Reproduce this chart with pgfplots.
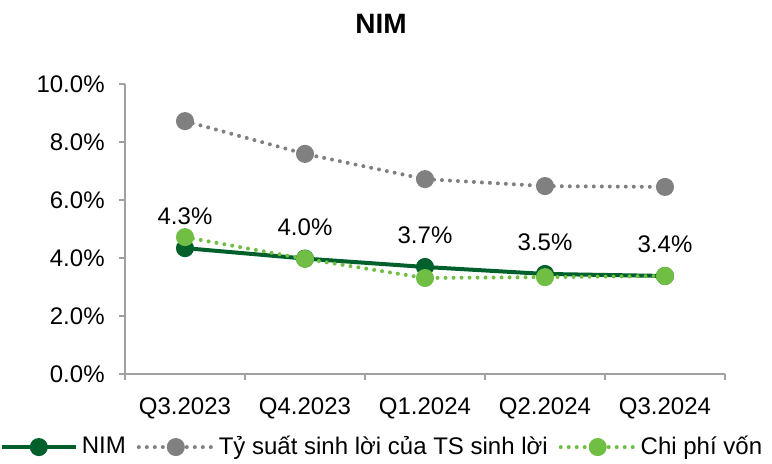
\documentclass[border=0pt]{standalone}
\usepackage{fontspec}
\setmainfont{Liberation Sans}
\usepackage{pgfplots}
\pgfplotsset{compat=1.18}
\definecolor{nimgreen}{RGB}{0,96,44}
\definecolor{tsgray}{RGB}{128,128,128}
\definecolor{cpgreen}{RGB}{112,190,68}
\definecolor{axisgray}{RGB}{160,160,160}
\begin{document}
\fontsize{12}{14}\selectfont
\begin{tikzpicture}
\useasboundingbox (-62.5pt,-45pt) rectangle (323.5pt,187pt);
\begin{axis}[
  at={(0,0)}, anchor=south west,
  scale only axis, width=300pt, height=145pt,
  xmin=-0.5, xmax=4.5, ymin=0, ymax=10,
  axis x line*=bottom, axis y line*=left,
  axis line style={axisgray, line width=0.6pt},
  xtick={0,1,2,3,4},
  xticklabels={Q3.2023,Q4.2023,Q1.2024,Q2.2024,Q3.2024},
  minor xtick={-0.5,0.5,1.5,2.5,3.5,4.5},
  ytick={0,2,4,6,8,10},
  tick align=outside,
  major tick length=3pt, minor tick length=3pt,
  x tick style={draw=none},
  minor x tick style={draw=axisgray, line width=0.6pt},
  y tick style={axisgray, line width=0.6pt},
  /pgf/number format/assume math mode=true,
  yticklabel={\pgfmathprintnumber[fixed,fixed zerofill,precision=1]{\tick}\%},
  xticklabel style={yshift=-4.5pt},
  yticklabel style={xshift=-3pt},
  tick label style={font=\fontsize{12}{14}\selectfont},
  clip=false,
  legend columns=3,
  legend style={at={(0.43,-0.252)}, anchor=center, draw=none, fill=none,
    font=\fontsize{12}{14}\selectfont,
    /tikz/every even column/.append style={column sep=3.5pt},
    inner sep=0pt},
  legend image code/.code={%
    \draw[mark repeat=2,mark phase=2] plot coordinates {(0pt,0pt) (18.5pt,0pt) (37pt,0pt)};},
  dotline/.style={line width=2pt, dash pattern=on 0pt off 4pt, line cap=round},
]
\addplot[nimgreen, line width=2pt, mark=*, mark size=3.5pt,
  mark options={solid, fill=nimgreen, draw=nimgreen},
  nodes near coords={\pgfmathprintnumber[fixed,fixed zerofill,precision=1]{\pgfplotspointmeta}\%},
  nodes near coords style={black, font=\fontsize{12}{14}\selectfont, yshift=6.5pt}]
  coordinates {(0,4.34) (1,3.98) (2,3.69) (3,3.45) (4,3.38)};
\addlegendentry{NIM}
\addplot[tsgray, dotline, mark=*, mark size=3.5pt,
  mark options={solid, fill=tsgray, draw=tsgray}]
  coordinates {(0,8.72) (1,7.59) (2,6.72) (3,6.48) (4,6.45)};
\addlegendentry{Tỷ suất sinh lời của TS sinh lời}
\addplot[cpgreen, dotline, mark=*, mark size=3.5pt,
  mark options={solid, fill=cpgreen, draw=cpgreen}]
  coordinates {(0,4.72) (1,3.97) (2,3.31) (3,3.34) (4,3.38)};
\addlegendentry{Chi phí vốn}
\end{axis}
\node[font=\fontsize{14}{16}\selectfont\bfseries] at (128pt,175pt) {NIM};
\end{tikzpicture}
\end{document}
